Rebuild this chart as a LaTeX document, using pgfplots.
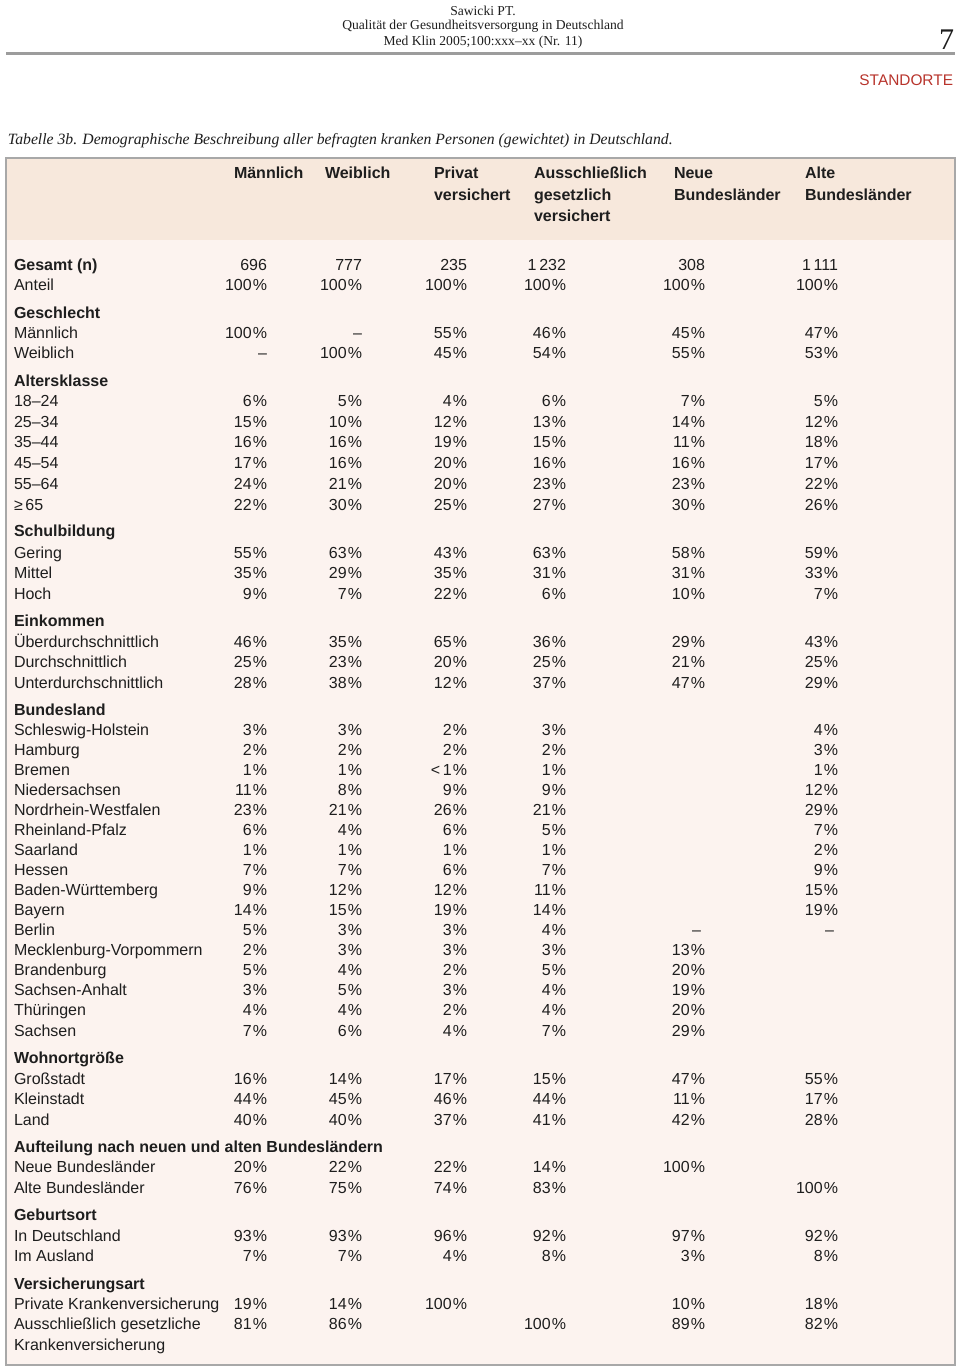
\documentclass[border=0pt]{standalone}
\usepackage{pgfplots}
\pgfplotsset{compat=1.18}
\usepackage{fontspec}
\setmainfont{Liberation Sans}
\newfontfamily\serif{Liberation Serif}
\definecolor{hdrbg}{HTML}{F7E8DC}
\definecolor{bodybg}{HTML}{FCF3EF}
\definecolor{framec}{HTML}{A8A8A8}
\definecolor{rulec}{HTML}{9C9C9C}
\definecolor{stdred}{HTML}{B8342C}
\definecolor{txt}{HTML}{1E1E1E}
\let\origpct\%
\def\%{\kern0.5pt\origpct}
\newcommand\bodyfont{\fontsize{8}{9.6}\selectfont}
\newcommand\boldfont{\bfseries\fontsize{8}{9.6}\selectfont}
\tikzset{cell/.style={inner sep=0pt,outer sep=0pt,text=txt,font=\bodyfont,yshift=-3pt}}
% row: y, label, six values (right aligned)
\newcommand\R[8]{%
  \node[cell,anchor=base west] at (axis cs:14,#1) {#2};
  \node[cell,anchor=base east] at (axis cs:267,#1) {#3};
  \node[cell,anchor=base east] at (axis cs:362,#1) {#4};
  \node[cell,anchor=base east] at (axis cs:467,#1) {#5};
  \node[cell,anchor=base east] at (axis cs:566,#1) {#6};
  \node[cell,anchor=base east] at (axis cs:705,#1) {#7};
  \node[cell,anchor=base east] at (axis cs:838,#1) {#8};
}
\newcommand\Hd[2]{%
  \node[cell,anchor=base west,font=\boldfont] at (axis cs:14,#1) {#2};
}
\newcommand\C[3]{%
  \node[cell,anchor=base west,font=\boldfont] at (axis cs:#1,#2) {#3};
}
\begin{document}
\begin{tikzpicture}
\begin{axis}[name=ax,width=480pt,height=684pt,scale only axis,
  xmin=0,xmax=960,ymin=0,ymax=1368,y dir=reverse,hide axis,clip=false]
\fill[white] (axis cs:0,0) rectangle (axis cs:960,1368);
\addplot[draw=none] coordinates {(0,0) (960,1368)};
% page header
\node[cell,yshift=0pt,anchor=base,font=\serif\fontsize{6.8}{8}\selectfont] at (axis cs:483,10) {Sawicki PT.};
\node[cell,yshift=0pt,anchor=base,font=\serif\fontsize{6.8}{8}\selectfont] at (axis cs:483,24) {Qualität der Gesundheitsversorgung in Deutschland};
\node[cell,yshift=0pt,anchor=base,font=\serif\fontsize{6.8}{8}\selectfont] at (axis cs:483,40) {Med Klin 2005;100:xxx\textendash xx (Nr. 11)};
\node[cell,yshift=0pt,anchor=base east,font=\serif\fontsize{15}{16}\selectfont] at (axis cs:954,44) {7};
\draw[rulec,line width=1.5pt] (axis cs:6,54) -- (axis cs:955,54);
\node[cell,yshift=0pt,anchor=base east,text=stdred,font=\fontsize{7.7}{9}\selectfont] at (axis cs:953,80) {STANDORTE};
\node[cell,yshift=0pt,anchor=base west,font=\serif\itshape\fontsize{7.85}{10}\selectfont] at (axis cs:8,139) {Tabelle 3b. Demographische Beschreibung aller befragten kranken Personen (gewichtet) in Deutschland.};
% table box
\fill[bodybg] (axis cs:6,158) rectangle (axis cs:955,1365);
\fill[hdrbg] (axis cs:6,158) rectangle (axis cs:955,240);
\draw[framec,line width=0.6pt] (axis cs:6,158) rectangle (axis cs:955,1365);
% column headers
\C{234}{173}{Männlich}
\C{325}{173}{Weiblich}
\C{434}{173}{Privat}
\C{434}{195}{versichert}
\C{534}{173}{Ausschließlich}
\C{534}{195}{gesetzlich}
\C{534}{216}{versichert}
\C{674}{173}{Neue}
\C{674}{195}{Bundesländer}
\C{805}{173}{Alte}
\C{805}{195}{Bundesländer}
% body
\Hd{265}{Gesamt (n)}
\R{265}{}{696}{777}{235}{1\,232}{308}{1\,111}
\R{285}{Anteil}{100\%}{100\%}{100\%}{100\%}{100\%}{100\%}
\Hd{313}{Geschlecht}
\R{333}{Männlich}{100\%}{--}{55\%}{46\%}{45\%}{47\%}
\R{353}{Weiblich}{--}{100\%}{45\%}{54\%}{55\%}{53\%}
\Hd{381}{Altersklasse}
\R{401}{18--24}{6\%}{5\%}{4\%}{6\%}{7\%}{5\%}
\R{422}{25--34}{15\%}{10\%}{12\%}{13\%}{14\%}{12\%}
\R{442}{35--44}{16\%}{16\%}{19\%}{15\%}{11\%}{18\%}
\R{463}{45--54}{17\%}{16\%}{20\%}{16\%}{16\%}{17\%}
\R{483}{55--64}{24\%}{21\%}{20\%}{23\%}{23\%}{22\%}
\R{504}{≥\,65}{22\%}{30\%}{25\%}{27\%}{30\%}{26\%}
\Hd{531}{Schulbildung}
\R{552}{Gering}{55\%}{63\%}{43\%}{63\%}{58\%}{59\%}
\R{572}{Mittel}{35\%}{29\%}{35\%}{31\%}{31\%}{33\%}
\R{593}{Hoch}{9\%}{7\%}{22\%}{6\%}{10\%}{7\%}
\Hd{620}{Einkommen}
\R{641}{Überdurchschnittlich}{46\%}{35\%}{65\%}{36\%}{29\%}{43\%}
\R{661}{Durchschnittlich}{25\%}{23\%}{20\%}{25\%}{21\%}{25\%}
\R{682}{Unterdurchschnittlich}{28\%}{38\%}{12\%}{37\%}{47\%}{29\%}
\Hd{709}{Bundesland}
\R{729}{Schleswig-Holstein}{3\%}{3\%}{2\%}{3\%}{}{4\%}
\R{749}{Hamburg}{2\%}{2\%}{2\%}{2\%}{}{3\%}
\R{769}{Bremen}{1\%}{1\%}{<\,1\%}{1\%}{}{1\%}
\R{789}{Niedersachsen}{11\%}{8\%}{9\%}{9\%}{}{12\%}
\R{809}{Nordrhein-Westfalen}{23\%}{21\%}{26\%}{21\%}{}{29\%}
\R{829}{Rheinland-Pfalz}{6\%}{4\%}{6\%}{5\%}{}{7\%}
\R{849}{Saarland}{1\%}{1\%}{1\%}{1\%}{}{2\%}
\R{869}{Hessen}{7\%}{7\%}{6\%}{7\%}{}{9\%}
\R{889}{Baden-Württemberg}{9\%}{12\%}{12\%}{11\%}{}{15\%}
\R{909}{Bayern}{14\%}{15\%}{19\%}{14\%}{}{19\%}
\R{929}{Berlin}{5\%}{3\%}{3\%}{4\%}{--\kern2pt}{--\kern2pt}
\R{949}{Mecklenburg-Vorpommern}{2\%}{3\%}{3\%}{3\%}{13\%}{}
\R{969}{Brandenburg}{5\%}{4\%}{2\%}{5\%}{20\%}{}
\R{989}{Sachsen-Anhalt}{3\%}{5\%}{3\%}{4\%}{19\%}{}
\R{1009}{Thüringen}{4\%}{4\%}{2\%}{4\%}{20\%}{}
\R{1030}{Sachsen}{7\%}{6\%}{4\%}{7\%}{29\%}{}
\Hd{1057}{Wohnortgröße}
\R{1078}{Großstadt}{16\%}{14\%}{17\%}{15\%}{47\%}{55\%}
\R{1098}{Kleinstadt}{44\%}{45\%}{46\%}{44\%}{11\%}{17\%}
\R{1119}{Land}{40\%}{40\%}{37\%}{41\%}{42\%}{28\%}
\Hd{1146}{Aufteilung nach neuen und alten Bundesländern}
\R{1166}{Neue Bundesländer}{20\%}{22\%}{22\%}{14\%}{100\%}{}
\R{1187}{Alte Bundesländer}{76\%}{75\%}{74\%}{83\%}{}{100\%}
\Hd{1214}{Geburtsort}
\R{1235}{In Deutschland}{93\%}{93\%}{96\%}{92\%}{97\%}{92\%}
\R{1255}{Im Ausland}{7\%}{7\%}{4\%}{8\%}{3\%}{8\%}
\Hd{1283}{Versicherungsart}
\R{1303}{Private Krankenversicherung}{19\%}{14\%}{100\%}{}{10\%}{18\%}
\R{1323}{Ausschließlich gesetzliche}{81\%}{86\%}{}{100\%}{89\%}{82\%}
\R{1344}{Krankenversicherung}{}{}{}{}{}{}
\end{axis}
\pgfresetboundingbox
\path[use as bounding box] (ax.south west) rectangle (ax.north east);
\end{tikzpicture}
\end{document}
